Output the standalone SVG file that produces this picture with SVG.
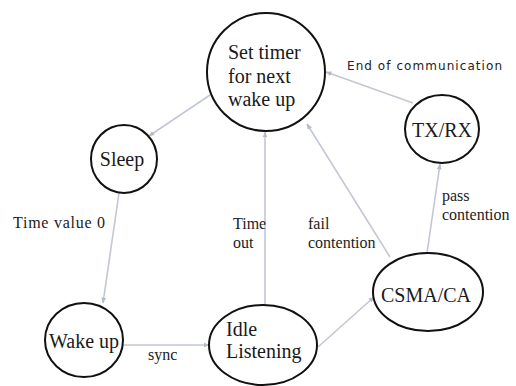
<svg xmlns="http://www.w3.org/2000/svg" width="516" height="386" viewBox="0 0 516 386">
<defs>
<style>
.node{fill:#fff;stroke:#111;stroke-width:2}
.nl{font-size:20px;fill:#1a1a1a}
.el{font-size:16px;fill:#222}
.sl{font-size:12px;fill:#222}
.edge{stroke:#c3c7d4;stroke-width:1.6;fill:none;marker-end:url(#arr)}
</style>
<marker id="arr" viewBox="0 0 10 10" refX="9" refY="5" markerWidth="6" markerHeight="6" orient="auto" markerUnits="userSpaceOnUse">
<path d="M0,1 L10,5 L0,9 z" fill="#b5bac9"/>
</marker>
</defs>
<rect width="516" height="386" fill="#fff"/>
<g id="connectors">
<line class="edge" x1="210" y1="95" x2="149" y2="136"/>
<line class="edge" x1="119" y1="193" x2="103" y2="303"/>
<line class="edge" x1="123" y1="345" x2="209" y2="345"/>
<line class="edge" x1="265" y1="306" x2="265" y2="132"/>
<line class="edge" x1="318" y1="347" x2="374" y2="297"/>
<line class="edge" x1="390" y1="257" x2="307" y2="124"/>
<line class="edge" x1="427" y1="253" x2="440" y2="164"/>
<line class="edge" x1="413" y1="103" x2="326" y2="72"/>
<g font-family="DejaVu Sans, sans-serif">
<text class="sl" x="347" y="70" textLength="155">End of communication</text>
</g>
<g font-family="Liberation Serif, serif">
<text class="el" x="13" y="228" textLength="92">Time value 0</text>
<text class="el" x="148" y="360">sync</text>
<text class="el" x="233" y="229">Time</text>
<text class="el" x="233" y="248">out</text>
<text class="el" x="308" y="229">fail</text>
<text class="el" x="308" y="248">contention</text>
<text class="el" x="442" y="201">pass</text>
<text class="el" x="442" y="220">contention</text>
</g>
</g>
<g font-family="Liberation Serif, serif">
<g id="set-timer">
<circle class="node" cx="266" cy="72" r="59"/>
<text class="nl" x="228" y="59">Set timer</text>
<text class="nl" x="228" y="83">for next</text>
<text class="nl" x="228" y="106">wake up</text>
</g>
<g id="sleep">
<ellipse class="node" cx="124" cy="159" rx="33" ry="34"/>
<text class="nl" x="122" y="166" text-anchor="middle" font-size="21">Sleep</text>
</g>
<g id="wake-up">
<ellipse class="node" cx="84" cy="340" rx="39" ry="37"/>
<text class="nl" x="84" y="348" text-anchor="middle">Wake up</text>
</g>
<g id="idle-listening">
<ellipse class="node" cx="263" cy="345" rx="54" ry="40"/>
<text class="nl" x="226" y="336">Idle</text>
<text class="nl" x="226" y="358">Listening</text>
</g>
<g id="csma-ca">
<ellipse class="node" cx="428" cy="292" rx="55" ry="39"/>
<text class="nl" x="426" y="302" text-anchor="middle" font-size="21">CSMA/CA</text>
</g>
<g id="tx-rx">
<ellipse class="node" cx="442" cy="129" rx="37" ry="34"/>
<text class="nl" x="442" y="137" text-anchor="middle" font-size="22">TX/RX</text>
</g>
</g>
</svg>
